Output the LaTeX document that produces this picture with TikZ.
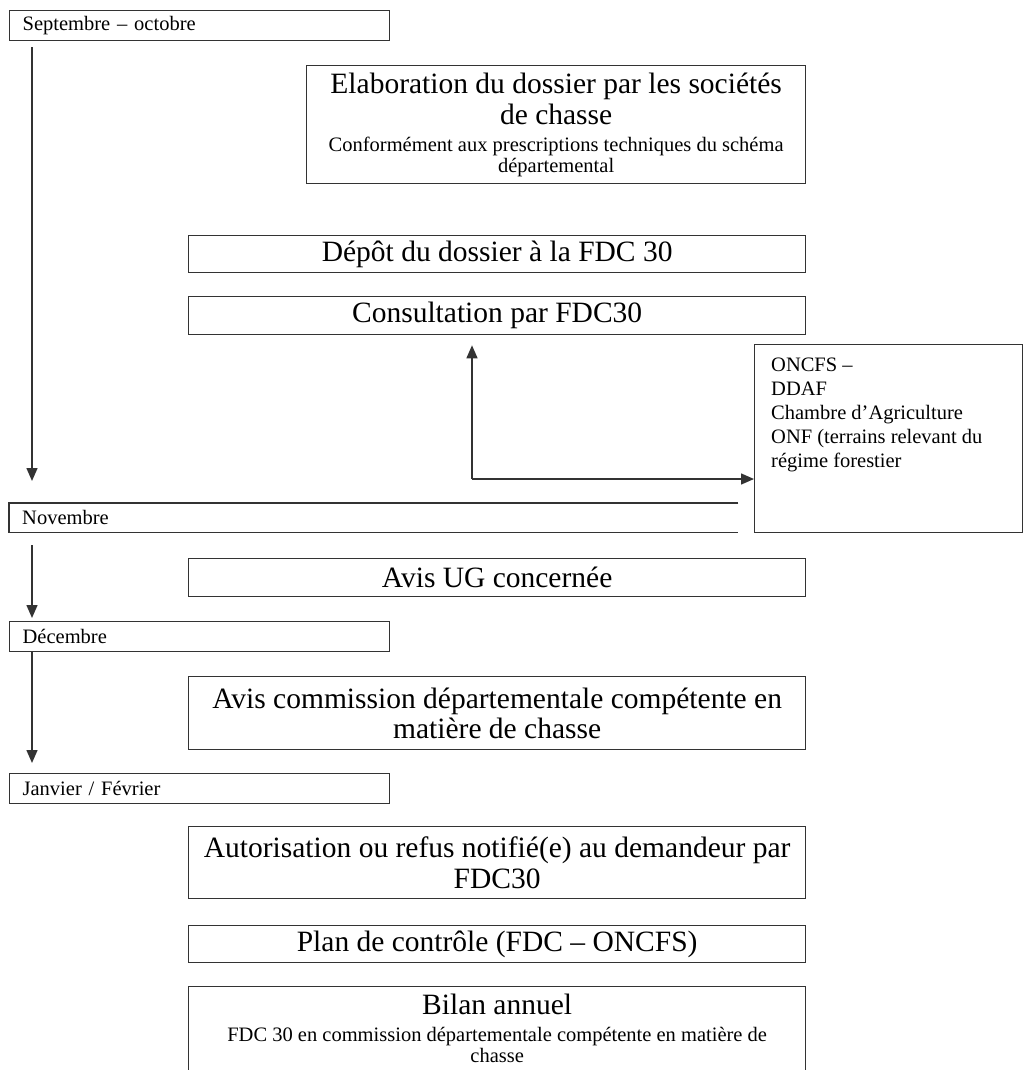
\documentclass[tikz,border=0pt]{standalone}
\usepackage{fontspec}
\setmainfont{Liberation Serif}
\usetikzlibrary{arrows.meta,calc}
\begin{document}
\begin{tikzpicture}[x=1pt,y=-1pt,
  boxline/.style={draw=black!80, line width=1.3pt},
  box/.style={boxline, inner sep=0pt, anchor=north west},
  bigf/.style={font=\fontsize{29.5}{30.5}\selectfont},
  smallf/.style={font=\fontsize{20.5}{21}\selectfont},
  monthbox/.style={box, smallf, text width=354pt, inner xsep=13pt, align=left, minimum height=30pt},
  cbox/.style={box, bigf, minimum width=617pt, align=center},
  txt/.style={inner sep=0pt, align=center},
  arr/.style={-{Triangle[length=13pt,width=11pt]}, line width=1.4pt, draw=black!80},
]
\useasboundingbox (0,0) rectangle (1024,1070);
\clip (0,0) rectangle (1024,1070);

\node[monthbox] (sept) at (9,10) {Septembre – octobre};

\node[box, minimum width=499pt, minimum height=118pt] (elab) at (306,65) {};
\node[txt, bigf, anchor=north] (elabA) at ($(elab.north)+(0,8)$)
  {Elaboration du dossier par les sociétés\\ de chasse};
\node[txt, smallf, anchor=north] (elabB) at ($(elab.north)+(0,72)$)
  {Conformément aux prescriptions techniques du schéma\\ départemental};

\node[cbox, minimum height=37pt] (depot) at (188,235) {Dépôt du dossier à la FDC 30};
\node[cbox, minimum height=38pt] (cons) at (188,296) {Consultation par FDC30};

\node[box, minimum width=268pt, minimum height=188pt] (oncfs) at (754,344) {};
\node[smallf, font=\fontsize{20.5}{24}\selectfont, anchor=north west, align=left, inner sep=0pt] (oncfstxt) at ($(oncfs.north west)+(17,14)$)
  {ONCFS –\\DDAF\\Chambre d’Agriculture\\ONF (terrains relevant du\\régime forestier};

\node[smallf, anchor=north west, minimum width=729pt, minimum height=29pt, inner xsep=13pt, inner ysep=0pt, text width=703pt, align=left] (nov) at (9,503) {Novembre};
\draw[boxline] (nov.north east) -- (nov.north west) -- (nov.south west) -- (nov.south east);

\node[cbox, minimum height=38pt] (ug) at (188,558) {Avis UG concernée};
\node[monthbox] (dec) at (9,621) {Décembre};
\node[cbox, minimum height=73pt] (comm) at (188,676) {Avis commission départementale compétente en\\ matière de chasse};
\node[monthbox] (jan) at (9,773) {Janvier / Février};
\node[cbox, minimum height=72pt] (auto) at (188,826) {Autorisation ou refus notifié(e) au demandeur par\\ FDC30};
\node[cbox, minimum height=37pt] (plan) at (188,925) {Plan de contrôle (FDC – ONCFS)};

\node[box, minimum width=617pt, minimum height=100pt] (bilan) at (188,986) {};
\node[txt, bigf, anchor=base] (bilanA) at ($(bilan.north)+(0,28)$) {Bilan annuel};
\node[txt, smallf, anchor=north] (bilanB) at ($(bilan.north)+(0,41)$)
  {FDC 30 en commission départementale compétente en matière de\\ chasse};

\draw[arr, shorten <=6pt, shorten >=22pt] ($(sept.south west)+(23,0)$) -- ($(nov.north west)+(23,0)$);
\draw[arr, shorten <=13pt, shorten >=3pt] ($(nov.south west)+(23,0)$) -- ($(dec.north west)+(23,0)$);
\draw[arr, shorten >=10pt] ($(dec.south west)+(23,0)$) -- ($(jan.north west)+(23,0)$);

\coordinate (j) at (472,479);
\draw[arr, shorten >=10pt] (j) -- (j |- cons.south);
\draw[arr] (j) -- (j -| oncfs.west);
\end{tikzpicture}
\end{document}
